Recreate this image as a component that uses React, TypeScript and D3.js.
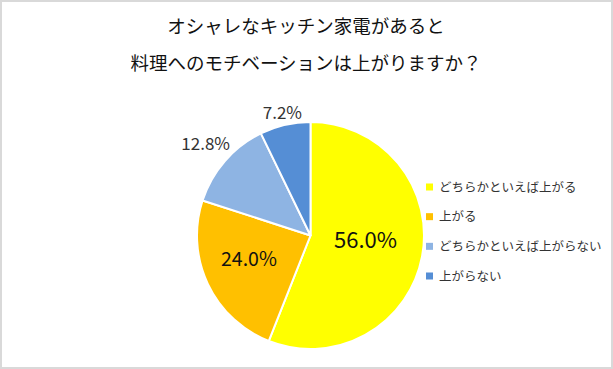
import React, { useEffect, useRef } from 'react';
import * as d3 from 'd3';

const titleLines = ['オシャレなキッチン家電があると', '料理へのモチベーションは上がりますか？'];
const categories = ['どちらかといえば上がる', '上がる', 'どちらかといえば上がらない', '上がらない'];
const values = [56.0, 24.0, 12.8, 7.2];
const colors = ['#FFFF00', '#FFC000', '#8EB4E3', '#558ED5'];

const FONT = '"Noto Sans CJK JP", "Noto Sans", sans-serif';

const App = () => {
  const svgRef = useRef<SVGSVGElement>(null);

  useEffect(() => {
    const svg = d3.select(svgRef.current);
    svg.selectAll('*').remove();

    const width = 613;
    const height = 369;
    const cx = 310.5;
    const cy = 235.5;
    const r = 113.5;

    // frame
    svg.append('rect')
      .attr('x', 1).attr('y', 1)
      .attr('width', width - 2).attr('height', height - 2)
      .attr('fill', '#fff')
      .attr('stroke', '#d9d9d9')
      .attr('stroke-width', 2);

    // title
    svg.append('g')
      .selectAll('text')
      .data(titleLines)
      .join('text')
      .attr('x', 306)
      .attr('y', (d, i) => 33 + i * 37)
      .attr('text-anchor', 'middle')
      .attr('font-family', FONT)
      .attr('font-size', 18.5)
      .attr('fill', '#111')
      .text(d => d);

    const pie = d3.pie<number>().sort(null).value(d => d);
    const arcs = pie(values);
    const arc = d3.arc<d3.PieArcDatum<number>>().innerRadius(0).outerRadius(r);

    const g = svg.append('g').attr('transform', `translate(${cx},${cy})`);

    g.selectAll('path')
      .data(arcs)
      .join('path')
      .attr('d', arc)
      .attr('fill', (d, i) => colors[i])
      .attr('stroke', '#fff')
      .attr('stroke-width', 2)
      .attr('stroke-linejoin', 'round');

    // labels: big slices inside, small ones just outside the rim
    const fmt = (v: number) => `${v.toFixed(1)}%`;
    arcs.forEach((d, i) => {
      const mid = (d.startAngle + d.endAngle) / 2;
      const sx = Math.sin(mid);
      const sy = -Math.cos(mid);
      const inside = d.value >= 20;
      const size = i === 0 ? 22 : inside ? 19.5 : 17;
      let dist: number;
      if (inside) {
        dist = i === 0 ? 56 : 68;
      } else {
        const hw = fmt(d.value).length * size * 0.3;
        const hh = size * 0.2;
        dist = r + 4 + Math.abs(sx) * hw + Math.abs(sy) * hh;
      }
      g.append('text')
        .attr('x', sx * dist)
        .attr('y', sy * dist)
        .attr('dy', inside ? '0.1em' : '0.36em')
        .attr('text-anchor', 'middle')
        .attr('font-family', FONT)
        .attr('font-size', size)
        .attr('fill', inside ? '#111' : '#333')
        .text(fmt(d.value));
    });

    // legend
    const ly = d3.scalePoint<string>().domain(categories).range([187, 276]);
    const legend = svg.append('g');
    categories.forEach((c, i) => {
      const y = ly(c) as number;
      legend.append('rect')
        .attr('x', 426).attr('y', y - 3.5)
        .attr('width', 7).attr('height', 7)
        .attr('fill', colors[i]);
      legend.append('text')
        .attr('x', 439).attr('y', y)
        .attr('dy', '0.36em')
        .attr('font-family', FONT)
        .attr('font-size', 12.5)
        .attr('fill', '#333')
        .text(c);
    });
  }, []);

  return (
    <div style={{ position: 'absolute', left: 0, top: 0 }}>
      <svg ref={svgRef} width={613} height={369} viewBox="0 0 613 369" style={{ display: 'block' }}></svg>
    </div>
  );
};

export default App;
